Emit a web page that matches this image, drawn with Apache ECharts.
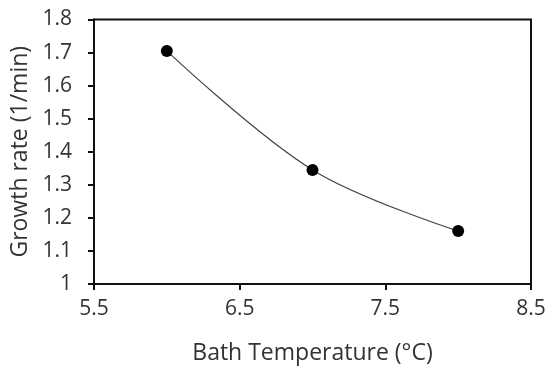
<!DOCTYPE html>
<html>
<head>
<meta charset="utf-8">
<script src="https://cdn.jsdelivr.net/npm/echarts@6/dist/echarts.min.js"></script>
<style>
html,body{margin:0;padding:0;background:#fff;}
#chart{width:550px;height:373px;}
</style>
</head>
<body>
<div id="chart"></div>
<script>
var temperatures = [6, 7, 8];
var growthRates = [1.705, 1.345, 1.16];
var xAxisTitle = 'Bath Temperature (°C)';
var yAxisTitle = 'Growth rate (1/min)';

var points = temperatures.map(function (t, i) { return [t, growthRates[i]]; });
var font = 'Open Sans';
var textColor = '#333';

var chart = echarts.init(document.getElementById('chart'), null, {renderer: 'canvas'});
chart.setOption({
  animation: false,
  grid: {left: 94, right: 19, top: 19.5, bottom: 89, show: true, borderColor: '#111', borderWidth: 2, backgroundColor: 'transparent'},
  xAxis: {
    type: 'value', min: 5.5, max: 8.5, interval: 1,
    name: xAxisTitle, nameLocation: 'middle', nameGap: 58,
    nameTextStyle: {fontFamily: font, fontSize: 23, color: textColor},
    axisLine: {show: true, onZero: false, lineStyle: {color: '#111', width: 2}},
    axisTick: {show: true, inside: false, length: 6, lineStyle: {color: '#111', width: 2}},
    axisLabel: {margin: 15, fontFamily: font, fontSize: 21, color: textColor,
      formatter: function (v) { return v.toFixed(1); }},
    splitLine: {show: false}
  },
  yAxis: {
    type: 'value', min: 1, max: 1.8, interval: 0.1,
    name: yAxisTitle, nameLocation: 'middle', nameGap: 60,
    nameTextStyle: {fontFamily: font, fontSize: 23, color: textColor},
    axisLine: {show: true, onZero: false, lineStyle: {color: '#111', width: 2}},
    axisTick: {show: true, inside: false, length: 6, lineStyle: {color: '#111', width: 2}},
    axisLabel: {margin: 22, fontFamily: font, fontSize: 21, color: textColor,
      formatter: function (v) { return Math.abs(v - 1) < 1e-9 ? '1' : (Math.round(v * 10) / 10).toFixed(1); }},
    splitLine: {show: false}
  },
  series: [{
    type: 'line',
    data: points,
    smooth: 0.35,
    symbol: 'circle',
    symbolSize: 12,
    itemStyle: {color: '#000'},
    lineStyle: {color: '#444', width: 1.2}
  }]
});
</script>
</body>
</html>
